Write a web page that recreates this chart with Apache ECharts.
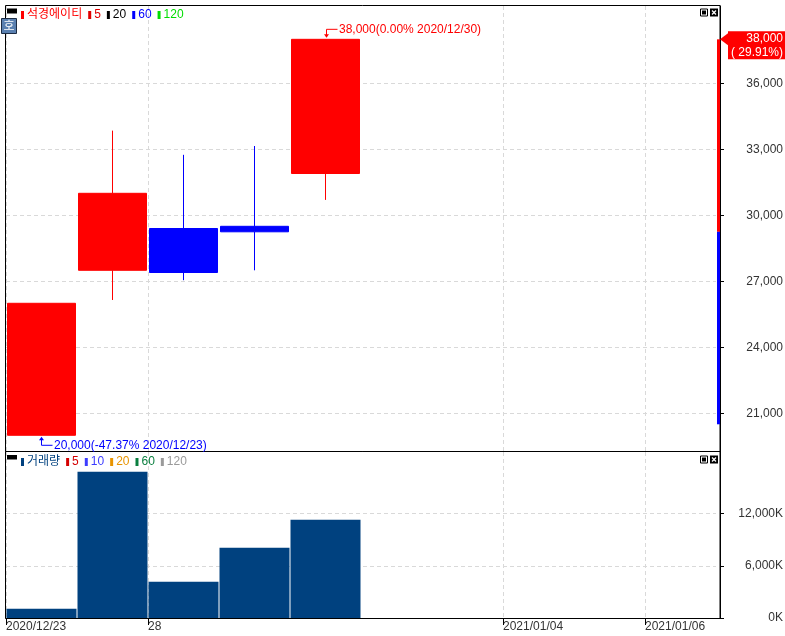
<!DOCTYPE html>
<html>
<head>
<meta charset="utf-8">
<title>석경에이티</title>
<script src="https://cdn.jsdelivr.net/npm/echarts@6/dist/echarts.min.js"></script>
<style>
html, body { margin: 0; padding: 0; background: #fff; }
#main { width: 785px; height: 636px; }
</style>
</head>
<body>
<div id="main"></div>
<script>
// 종목명, 일자 (빈 칸은 앞으로의 영업일)
var stockName = '석경에이티';
var dates = ['2020/12/23', '2020/12/24', '2020/12/28', '2020/12/29', '2020/12/30',
             '2020/12/31', '2021/01/01', '2021/01/04', '2021/01/05', '2021/01/06'];
// 일봉 [시가, 종가, 저가, 고가]
var ohlc = [
  [20000, 26000, 20000, 26000],
  [27500, 31000, 26150, 33850],
  [29400, 27400, 27050, 32750],
  [29500, 29250, 27500, 33150],
  [31900, 38000, 30700, 38000]
];
// 거래량 (단위 K)
var volumes = [1070, 16830, 4175, 8085, 11305];
// 하단 날짜 눈금 (칸 경계마다 하나)
var tickLabels = ['2020/12/23', '', '28', '', '', '', '', '2021/01/04', '', '2021/01/06', ''];
var priceTicks = [21000, 24000, 27000, 30000, 33000, 36000];
var volumeTicks = [0, 6000, 12000];
// 가격제한폭: 상한가, 전일종가, 하한가
var priceLimit = [38000, 29250, 20500];
// 범례
var priceLegend = ['5', '20', '60', '120'];
var priceLegendColors = ['#e00000', '#000000', '#0000ff', '#00dd00'];
var volumeLegend = ['5', '10', '20', '60', '120'];
var volumeLegendColors = ['#d40000', '#3c3cff', '#e89400', '#0a7f3f', '#9a9a9a'];

var FONT = "'Liberation Sans', 'Noto Sans CJK KR', sans-serif";
var UP = '#ff0000', DOWN = '#0000ff', VOL = '#00417f';
var PAD = 4; // 마지막 칸과 오른쪽 테두리 사이 여백

var chart = echarts.init(document.getElementById('main'));
var showTick = function (index) { return tickLabels[index] !== ''; };
var gridLine = { color: '#d9d9d9', type: [4, 3], width: 1 };
var fmt = function (v) { return v.toLocaleString('en-US'); };

var hiddenAxis = {
  axisLine: { show: false }, axisTick: { show: false },
  axisLabel: { show: false }, splitLine: { show: false }
};

var option = {
  animation: false,
  backgroundColor: '#fff',
  textStyle: { fontFamily: FONT },
  grid: [
    { left: 6, right: 69, top: 6, height: 446, containLabel: false, outerBoundsMode: 'none' },
    { left: 6, right: 69, top: 452, height: 166, containLabel: false, outerBoundsMode: 'none' }
  ],
  xAxis: [
    Object.assign({ type: 'category', gridIndex: 0, position: 'bottom', data: dates, boundaryGap: true }, hiddenAxis),
    { type: 'category', gridIndex: 0, position: 'top', data: tickLabels, boundaryGap: false,
      axisLine: { show: false }, axisTick: { show: false }, axisLabel: { show: false },
      splitLine: { show: true, interval: showTick, lineStyle: gridLine } },
    Object.assign({ type: 'category', gridIndex: 1, position: 'top', data: dates, boundaryGap: true }, hiddenAxis),
    { type: 'category', gridIndex: 1, position: 'bottom', data: tickLabels, boundaryGap: false,
      axisLine: { show: true, lineStyle: { color: '#000' } },
      axisTick: { show: true, interval: showTick, length: 7, lineStyle: { color: '#000' } },
      axisLabel: { interval: 0, align: 'left', margin: 3, color: '#333', fontSize: 12, fontFamily: FONT },
      splitLine: { show: true, interval: showTick, lineStyle: gridLine } }
  ],
  yAxis: [
    { type: 'value', gridIndex: 0, position: 'right', offset: PAD, min: 19240, max: 39515,
      axisLine: { show: true, lineStyle: { color: '#000' } },
      axisTick: { show: true, customValues: priceTicks, length: 4, lineStyle: { color: '#000' } },
      axisLabel: { customValues: priceTicks, formatter: fmt, color: '#333', fontSize: 12,
                   fontFamily: FONT, align: 'right', margin: 63 },
      splitLine: { show: true, lineStyle: gridLine } },
    { type: 'value', gridIndex: 1, position: 'right', offset: PAD, min: 0, max: 19090,
      axisLine: { show: true, lineStyle: { color: '#000' } },
      axisTick: { show: true, customValues: volumeTicks, length: 4, lineStyle: { color: '#000' } },
      axisLabel: { customValues: volumeTicks, formatter: function (v) { return fmt(v) + 'K'; },
                   color: '#333', fontSize: 12, fontFamily: FONT, align: 'right', margin: 63 },
      splitLine: { show: true, lineStyle: gridLine } }
  ],
  series: [
    { type: 'candlestick', xAxisIndex: 0, yAxisIndex: 0, data: ohlc, barWidth: '95.5%',
      silent: true,
      itemStyle: { color: UP, color0: DOWN, borderColor: UP, borderColor0: DOWN, borderWidth: 1 } },
    { type: 'bar', xAxisIndex: 2, yAxisIndex: 1, data: volumes, barWidth: '98.6%', silent: true,
      itemStyle: { color: VOL } }
  ]
};
chart.setOption(option);

// 범례 문자열 (색 막대 + 글자)
function legendText(name, nameColor, labels, colors) {
  var rich = { g3: { width: 3 }, g6: { width: 6 } };
  var all = [name].concat(labels);
  var cols = [nameColor].concat(colors);
  var parts = all.map(function (label, i) {
    rich['m' + i] = { width: 3, height: 8, backgroundColor: cols[i], verticalAlign: 'middle' };
    rich['t' + i] = { fill: cols[i], fontSize: 12, fontFamily: FONT, verticalAlign: 'middle' };
    return '{m' + i + '| }{g3| }{t' + i + '|' + label + '}' + (i < all.length - 1 ? '{g6| }' : '');
  });
  return { text: parts.join(''), rich: rich };
}

function panelIcons(x, y) {
  return [
    { type: 'rect', shape: { x: x + 0.5, y: y + 0.5, width: 7, height: 7 },
      style: { fill: '#fff', stroke: '#000', lineWidth: 1 }, z: 100 },
    { type: 'rect', shape: { x: x + 2, y: y + 2, width: 4, height: 4 }, style: { fill: '#000' }, z: 100 },
    { type: 'rect', shape: { x: x + 10, y: y, width: 8, height: 8 }, style: { fill: '#000' }, z: 100 },
    { type: 'polyline', shape: { points: [[x + 12, y + 2], [x + 16, y + 6]] },
      style: { stroke: '#fff', lineWidth: 1.2 }, z: 101 },
    { type: 'polyline', shape: { points: [[x + 16, y + 2], [x + 12, y + 6]] },
      style: { stroke: '#fff', lineWidth: 1.2 }, z: 101 }
  ];
}

function drawOverlays() {
  var toPx = function (i, v) { return chart.convertToPixel({ xAxisIndex: 0, yAxisIndex: 0 }, [i, v]); };
  var yPrice = function (v) { return chart.convertToPixel({ yAxisIndex: 0 }, v); };
  var left = chart.convertToPixel({ xAxisIndex: 1 }, 0);
  var right = chart.convertToPixel({ xAxisIndex: 1 }, tickLabels.length - 1) + PAD;
  var priceTop = yPrice(39515);
  var volTop = chart.convertToPixel({ yAxisIndex: 1 }, 19090);
  var volBottom = chart.convertToPixel({ yAxisIndex: 1 }, 0);

  var last = ohlc[ohlc.length - 1];
  var prevClose = priceLimit[1];
  var hiIdx = 0, loIdx = 0;
  ohlc.forEach(function (d, i) {
    if (d[3] > ohlc[hiIdx][3]) hiIdx = i;
    if (d[2] < ohlc[loIdx][2]) loIdx = i;
  });
  var hi = ohlc[hiIdx][3], lo = ohlc[loIdx][2];
  var pct = function (v) { return ((v - last[1]) / last[1] * 100).toFixed(2) + '%'; };

  var g = [];
  // 패널 테두리
  g.push({ type: 'rect', shape: { x: left - 0.5, y: priceTop - 0.5, width: right - left + 0.5, height: volTop - priceTop },
           style: { fill: 'none', stroke: '#000', lineWidth: 1 }, z: 90 });
  g.push({ type: 'rect', shape: { x: left - 0.5, y: volTop - 0.5, width: right - left + 0.5, height: volBottom - volTop + 1 },
           style: { fill: 'none', stroke: '#000', lineWidth: 1 }, z: 90 });

  var pl = legendText(stockName, UP, priceLegend, priceLegendColors);
  var vl = legendText('거래량', VOL, volumeLegend, volumeLegendColors);
  g.push({ type: 'rect', shape: { x: 7, y: priceTop + 2.5, width: 10, height: 5 }, style: { fill: '#000' }, z: 100 });
  g.push({ type: 'text', x: 21, y: priceTop + 9, z: 100,
           style: { text: pl.text, rich: pl.rich, font: '12px ' + FONT, verticalAlign: 'middle' } });
  g.push({ type: 'rect', shape: { x: 7, y: volTop + 3, width: 10, height: 4.5 }, style: { fill: '#000' }, z: 100 });
  g.push({ type: 'text', x: 21, y: volTop + 10, z: 100,
           style: { text: vl.text, rich: vl.rich, font: '12px ' + FONT, verticalAlign: 'middle' } });

  // '호' 표시
  g.push({ type: 'rect', shape: { x: 1.5, y: priceTop + 12.5, width: 15, height: 15 },
           style: { fill: '#5a80b0', stroke: '#1c2c44', lineWidth: 1 }, z: 100 });
  g.push({ type: 'text', x: 9, y: priceTop + 20.5, z: 101,
           style: { text: '호', fill: '#fff', font: '12px ' + FONT, align: 'center', verticalAlign: 'middle' } });

  g = g.concat(panelIcons(right - 20, priceTop + 2.5), panelIcons(right - 20, volTop + 3.5));

  // 최고가 표시
  var ph = toPx(dates[hiIdx], hi);
  var hx = Math.round(ph[0]) + 0.5, hy = ph[1];
  g.push({ type: 'polyline', shape: { points: [[hx, hy - 4], [hx, hy - 10], [hx + 11, hy - 10]] },
           style: { stroke: UP, lineWidth: 1 }, z: 100 });
  g.push({ type: 'polygon', shape: { points: [[hx - 2.5, hy - 5], [hx + 2.5, hy - 5], [hx, hy - 1.5]] },
           style: { fill: UP }, z: 100 });
  g.push({ type: 'text', x: hx + 12.5, y: hy - 10, z: 100,
           style: { text: fmt(hi) + '(' + pct(hi) + ' ' + dates[hiIdx] + ')', fill: UP,
                    font: '12px ' + FONT, verticalAlign: 'middle' } });

  // 최저가 표시
  var pw = toPx(dates[loIdx], lo);
  var lx = Math.round(pw[0]) - 0.5, ly = pw[1];
  g.push({ type: 'polyline', shape: { points: [[lx, ly + 4], [lx, ly + 10], [lx + 11, ly + 10]] },
           style: { stroke: DOWN, lineWidth: 1 }, z: 100 });
  g.push({ type: 'polygon', shape: { points: [[lx - 2.5, ly + 5], [lx + 2.5, ly + 5], [lx, ly + 1.5]] },
           style: { fill: DOWN }, z: 100 });
  g.push({ type: 'text', x: lx + 12.5, y: ly + 10, z: 100,
           style: { text: fmt(lo) + '(' + pct(lo) + ' ' + dates[loIdx] + ')', fill: DOWN,
                    font: '12px ' + FONT, verticalAlign: 'middle' } });

  // 가격제한폭 막대
  var yUp = yPrice(priceLimit[0]), yPrev = yPrice(priceLimit[1]), yDown = yPrice(priceLimit[2]);
  g.push({ type: 'rect', shape: { x: right - 3, y: yUp, width: 3, height: yPrev - yUp }, style: { fill: UP }, z: 100 });
  g.push({ type: 'rect', shape: { x: right - 3, y: yPrev, width: 3, height: yDown - yPrev }, style: { fill: DOWN }, z: 100 });

  // 현재가 표시
  var yc = yPrice(last[1]);
  var chg = (last[1] - prevClose) / prevClose * 100;
  g.push({ type: 'polygon', shape: { points: [[right, yc], [right + 8, yc - 6], [right + 8, yc + 6]] },
           style: { fill: UP }, z: 100 });
  g.push({ type: 'rect', shape: { x: right + 8, y: yc - 8, width: chart.getWidth() - right - 8, height: 28 },
           style: { fill: UP }, z: 100 });
  g.push({ type: 'text', x: chart.getWidth() - 2, y: yc - 1, z: 101,
           style: { text: fmt(last[1]), fill: '#fff', font: '12px ' + FONT, align: 'right', verticalAlign: 'middle' } });
  g.push({ type: 'text', x: chart.getWidth() - 2, y: yc + 13.5, z: 101,
           style: { text: '(' + (chg >= 0 ? ' ' : '') + chg.toFixed(2) + '%)', fill: '#fff',
                    font: '12px ' + FONT, align: 'right', verticalAlign: 'middle' } });

  chart.setOption({ graphic: g });
}
drawOverlays();
</script>
</body>
</html>
